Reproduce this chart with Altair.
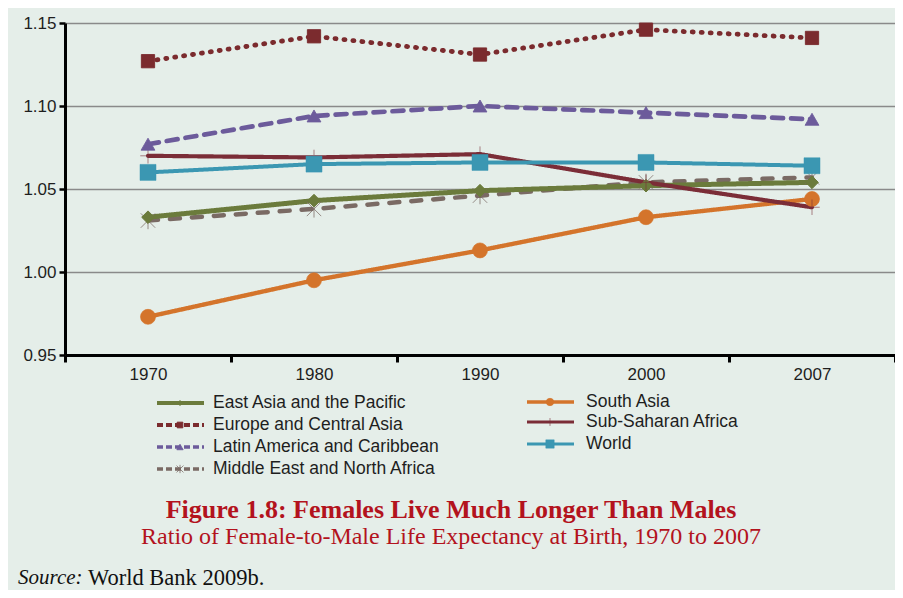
import altair as alt
import pandas as pd

# ---------------- data ----------------
years = ["1970", "1980", "1990", "2000", "2007"]
series = [
    "East Asia and the Pacific",
    "Europe and Central Asia",
    "Latin America and Caribbean",
    "Middle East and North Africa",
    "South Asia",
    "Sub-Saharan Africa",
    "World",
]
east_asia = [1.033, 1.043, 1.049, 1.052, 1.054]
europe = [1.127, 1.142, 1.131, 1.146, 1.141]
latin = [1.077, 1.094, 1.100, 1.096, 1.092]
middle_east = [1.031, 1.038, 1.046, 1.054, 1.057]
south_asia = [0.973, 0.995, 1.013, 1.033, 1.044]
sub_saharan = [1.070, 1.069, 1.071, 1.054, 1.039]
world = [1.060, 1.065, 1.066, 1.066, 1.064]

values = {
    "East Asia and the Pacific": east_asia,
    "Europe and Central Asia": europe,
    "Latin America and Caribbean": latin,
    "Middle East and North Africa": middle_east,
    "South Asia": south_asia,
    "Sub-Saharan Africa": sub_saharan,
    "World": world,
}
draw_order = [
    "Middle East and North Africa",
    "East Asia and the Pacific",
    "South Asia",
    "Sub-Saharan Africa",
    "World",
    "Latin America and Caribbean",
    "Europe and Central Asia",
]
title_text = "Figure 1.8: Females Live Much Longer Than Males"
subtitle_text = "Ratio of Female-to-Male Life Expectancy at Birth, 1970 to 2007"
source_label = "Source:"
source_text = "World Bank 2009b."

# ---------------- styles ----------------
colors = ["#6b7b3c", "#7b2b2e", "#6c5b9b", "#7a6a64", "#d4742b", "#7b2d37", "#3b97b2"]
line_widths = [5, 4, 5.5, 4.5, 3.5, 3, 3.5]
dashes = [[1, 0], [1, 8], [11, 8], [10, 12], [1, 0], [1, 0], [1, 0]]
ASTER = "M-1,-1L1,1M-1,1L1,-1M0,-1.2V1.2"
PLUS = "M-1,0H1M0,-1V1"
shapes = ["diamond", "square", "triangle-up", ASTER, "circle", PLUS, "square"]
sizes = [160, 256, 200, 150, 170, 180, 125]
pt_strokes = [1, 0.5, 1, 2, 1, 1.5, 1]

leg_widths = [4, 3, 3, 3, 4, 4, 4]
leg_dashes = [[1, 0], [6, 3], [6, 3], [6, 3], [1, 0], [1, 0], [1, 0]]
leg_sizes = [25, 70, 120, 50, 60, 150, 70]
leg_strokes = [1, 0.5, 1, 2, 1, 1.5, 1]

BG = "#e5eee9"
RED = "#b3131d"
TXT = "#1e1e1e"
W, H = 830, 332

rows = []
for s in draw_order:
    for y, v in zip(years, values[s]):
        rows.append({"series": s, "year": y, "ratio": v})
df = pd.DataFrame(rows)

# legend layout (pixel positions relative to the plot origin)
col_x = [(92, 139, 115, 148), (462, 509, 485, 521)]
row_y = {0: [380, 402, 424, 446], 1: [379, 399, 421]}
leg_rows = []
for i, s in enumerate(series):
    c = 0 if i < 4 else 1
    r = i if i < 4 else i - 4
    x0, x1, xm, xt = col_x[c]
    leg_rows.append({"series": s, "x0": x0, "x1": x1, "xm": xm, "xt": xt, "ly": row_y[c][r]})
leg = pd.DataFrame(leg_rows)

color = alt.Color("series:N", scale=alt.Scale(domain=series, range=colors), legend=None)
xband = alt.Scale(type="band", domain=years, paddingInner=0, paddingOuter=0)
yscale = alt.Scale(domain=[0.95, 1.15], nice=False, zero=False)

lines = alt.Chart(df).mark_line(strokeCap="round", strokeJoin="round").encode(
    x=alt.X("year:N", scale=xband, sort=years, title=None,
            axis=alt.Axis(tickBand="extent", labelAngle=0, domainColor="black", domainWidth=3,
                          tickColor="black", tickWidth=3, tickSize=7, labelFontSize=17,
                          labelColor=TXT, labelFont="Liberation Sans", labelPadding=4, grid=False)),
    y=alt.Y("ratio:Q", scale=yscale, title=None,
            axis=alt.Axis(values=[0.95, 1.0, 1.05, 1.10, 1.15], format=".2f", domainColor="black",
                          domainWidth=3, tickColor="black", tickWidth=2.5, tickSize=6,
                          labelFontSize=17, labelColor=TXT, labelFont="Liberation Sans",
                          labelPadding=3, grid=True, gridColor="#8a8a8a", gridWidth=1.5)),
    color=color,
    strokeDash=alt.StrokeDash("series:N", scale=alt.Scale(domain=series, range=dashes), legend=None),
    strokeWidth=alt.StrokeWidth("series:N", scale=alt.Scale(domain=series, range=line_widths), legend=None),
    detail="series:N",
)

points = alt.Chart(df).mark_point(filled=True, opacity=1).encode(
    x=alt.X("year:N", scale=xband, sort=years, axis=None),
    y=alt.Y("ratio:Q", scale=yscale, axis=None),
    color=color,
    stroke=alt.Stroke("series:N", scale=alt.Scale(domain=series, range=colors), legend=None),
    shape=alt.Shape("series:N", scale=alt.Scale(domain=series, range=shapes), legend=None),
    size=alt.Size("series:N", scale=alt.Scale(domain=series, range=sizes), legend=None),
    strokeWidth=alt.StrokeWidth("series:N", scale=alt.Scale(domain=series, range=pt_strokes), legend=None),
)

px = alt.Scale(domain=[0, W], range=[0, W], nice=False, zero=False)
py = alt.Scale(domain=[0, 570], range=[0, 570], nice=False, zero=False)

leg_lines = alt.Chart(leg).mark_rule().encode(
    x=alt.X("x0:Q", scale=px, axis=None),
    x2="x1:Q",
    y=alt.Y("ly:Q", scale=py, axis=None),
    color=color,
    strokeDash=alt.StrokeDash("series:N", scale=alt.Scale(domain=series, range=leg_dashes), legend=None),
    strokeWidth=alt.StrokeWidth("series:N", scale=alt.Scale(domain=series, range=leg_widths), legend=None),
)
leg_pts = alt.Chart(leg).mark_point(filled=True, opacity=1).encode(
    x=alt.X("xm:Q", scale=px, axis=None),
    y=alt.Y("ly:Q", scale=py, axis=None),
    color=color,
    stroke=alt.Stroke("series:N", scale=alt.Scale(domain=series, range=colors), legend=None),
    shape=alt.Shape("series:N", scale=alt.Scale(domain=series, range=shapes), legend=None),
    size=alt.Size("series:N", scale=alt.Scale(domain=series, range=leg_sizes), legend=None),
    strokeWidth=alt.StrokeWidth("series:N", scale=alt.Scale(domain=series, range=leg_strokes), legend=None),
)
leg_txt = alt.Chart(leg).mark_text(align="left", baseline="middle", fontSize=17.5,
                                   font="Liberation Sans", color=TXT).encode(
    x=alt.X("xt:Q", scale=px, axis=None),
    y=alt.Y("ly:Q", scale=py, axis=None),
    text="series:N",
)

def text_layer(txt, x, y, **kw):
    return alt.Chart(pd.DataFrame({"t": [txt]})).mark_text(**kw).encode(
        x=alt.value(x), y=alt.value(y), text="t:N")

title = text_layer(title_text, 386, 487, align="center", baseline="middle", fontSize=26,
                   font="Liberation Serif", fontWeight="bold", color=RED)
subtitle = text_layer(subtitle_text, 386, 514, align="center", baseline="middle", fontSize=24,
                      font="Liberation Serif", color=RED)
src1 = text_layer(source_label, -47, 555, align="left", baseline="middle", fontSize=21,
                  font="Liberation Serif", fontStyle="italic", color="#111111")
src2 = text_layer(source_text, 23, 555, align="left", baseline="middle", fontSize=22.5,
                  font="Liberation Serif", color="#111111")

chart = alt.layer(lines, points, leg_lines, leg_pts, leg_txt, title, subtitle, src1, src2).resolve_scale(
    x="independent", y="independent", strokeDash="independent", strokeWidth="independent",
    shape="independent", size="independent",
).properties(
    width=W, height=H,
    autosize=alt.AutoSizeParams(type="none"),
    padding={"left": 57, "top": 15, "right": 0, "bottom": 235},
    background=BG,
).configure_view(stroke=None)

chart.save("out.html", embed_options={"renderer": "svg", "actions": False})
